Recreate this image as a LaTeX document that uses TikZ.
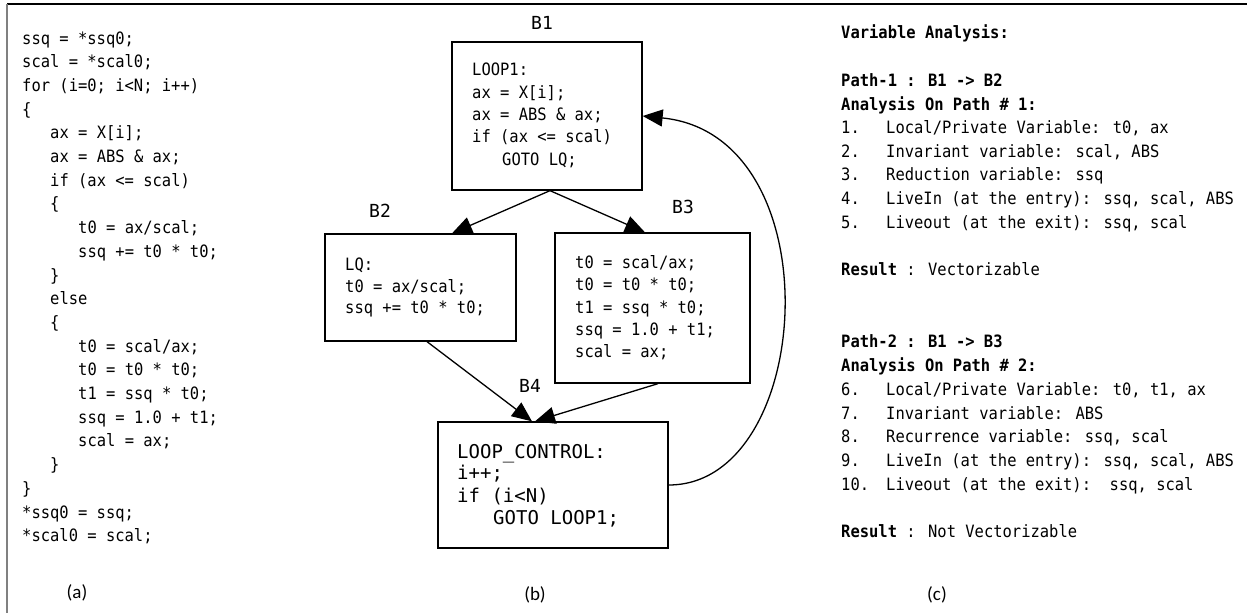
\documentclass[tikz,border=0pt]{standalone}
\usepackage{fontspec}
\setmonofont{DejaVu Sans Mono}
\newfontfamily\codefam{DejaVu Sans Mono}[FakeStretch=0.91]
\setsansfont{Carlito}
\usetikzlibrary{arrows.meta,calc}

\newcommand\codesize{\fontsize{17}{20}\selectfont}

\begin{document}
\begin{tikzpicture}[x=1pt,y=-1pt,
  ln/.style={anchor=base west, inner sep=0pt, font=\codefam\codesize},
  hd/.style={anchor=base west, inner sep=0pt, font=\codefam\bfseries\codesize},
  big/.style={anchor=base west, inner sep=0pt, font=\ttfamily\fontsize{19}{22}\selectfont},
  blocklabel/.style={inner sep=0pt, font=\ttfamily\fontsize{18}{20}\selectfont},
  caption/.style={inner sep=0pt, font=\sffamily\fontsize{19}{22}\selectfont},
  blk/.style={draw, line width=1.3pt, rectangle, inner sep=0pt},
  flow/.style={line width=1.3pt, -{Triangle[length=20pt,width=17pt]}}]

\useasboundingbox (0,0) rectangle (1247,613);

% frame
\draw[line width=1.5pt] (7,4) -- (1247,4);
\draw[line width=2pt, gray] (7,4) -- (7,613);

% (a) source loop
\node[ln] (a1)  at (22,44)    {ssq = *ssq0;};
\node[ln] (a2)  at (22,67.7)  {scal = *scal0;};
\node[ln] (a3)  at (22,91.4)  {for (i=0; i<N; i++)};
\node[ln] (a4)  at (22,115.1) {\{};
\node[ln] (a5)  at (50,138.8) {ax = X[i];};
\node[ln] (a6)  at (50,162.5) {ax = ABS \& ax;};
\node[ln] (a7)  at (50,186.2) {if (ax <= scal)};
\node[ln] (a8)  at (50,209.9) {\{};
\node[ln] (a9)  at (78,233.6) {t0 = ax/scal;};
\node[ln] (a10) at (78,257.3) {ssq += t0 * t0;};
\node[ln] (a11) at (50,281)   {\}};
\node[ln] (a12) at (50,304.7) {else};
\node[ln] (a13) at (50,328.4) {\{};
\node[ln] (a14) at (78,352.1) {t0 = scal/ax;};
\node[ln] (a15) at (78,375.8) {t0 = t0 * t0;};
\node[ln] (a16) at (78,399.5) {t1 = ssq * t0;};
\node[ln] (a17) at (78,423.2) {ssq = 1.0 + t1;};
\node[ln] (a18) at (78,446.9) {scal = ax;};
\node[ln] (a19) at (50,470.6) {\}};
\node[ln] (a20) at (22,494.3) {\}};
\node[ln] (a21) at (22,518)   {*ssq0 = ssq;};
\node[ln] (a22) at (22,541.7) {*scal0 = scal;};
\node[caption] (capa) at (77,593) {(a)};

% (b) control flow graph
\node[blk, minimum width=190pt, minimum height=148pt] (B1) at (547,116) {};
\node[blk, minimum width=191pt, minimum height=107pt] (B2) at (420.5,287.5) {};
\node[blk, minimum width=195pt, minimum height=150pt] (B3) at (652.5,308) {};
\node[blk, minimum width=230pt, minimum height=126pt] (B4) at (553,485) {};

\node[blocklabel] (l1) at (542,23)  {B1};
\node[blocklabel] (l2) at (380,211) {B2};
\node[blocklabel] (l3) at (683,207) {B3};
\node[blocklabel] (l4) at (530,386) {B4};

\node[ln] (b11) at (472,75)  {LOOP1:};
\node[ln] (b12) at (472,98)  {ax = X[i];};
\node[ln] (b13) at (472,120) {ax = ABS \& ax;};
\node[ln] (b14) at (472,142) {if (ax <= scal)};
\node[ln] (b15) at (502,165) {GOTO LQ;};

\node[ln] (b21) at (345,270) {LQ:};
\node[ln] (b22) at (345,292) {t0 = ax/scal;};
\node[ln] (b23) at (345,313) {ssq += t0 * t0;};

\node[ln] (b31) at (575,268) {t0 = scal/ax;};
\node[ln] (b32) at (575,290) {t0 = t0 * t0;};
\node[ln] (b33) at (575,313) {t1 = ssq * t0;};
\node[ln] (b34) at (575,335) {ssq = 1.0 + t1;};
\node[ln] (b35) at (575,357) {scal = ax;};

\node[big] (b41) at (457,458) {LOOP\_CONTROL:};
\node[big] (b42) at (457,479) {i++;};
\node[big] (b43) at (457,502) {if (i<N)};
\node[big] (b44) at (493,524) {GOTO LOOP1;};

\draw[flow] ([xshift=3pt]B1.south) -- ([xshift=31.5pt]B2.north);
\draw[flow] ([xshift=3pt]B1.south) -- ([xshift=-7.5pt]B3.north);
\draw[flow] ([xshift=6.5pt]B2.south) -- ([xshift=-21pt]B4.north);
\draw[flow] ([xshift=5.5pt]B3.south) -- ([xshift=-18pt]B4.north);
\draw[flow] (B4.east) .. controls (815,485) and (835,135) .. (B1.east);

\node[caption] (capb) at (535,595) {(b)};

% (c) variable analysis
\node[hd] (c0) at (841,38)  {Variable Analysis:};
\node[hd] (c1) at (841,86)  {Path-1 : B1 -> B2};
\node[hd] (c2) at (841,110) {Analysis On Path \# 1:};
\node[ln] (n1) at (841,133) {1.};
\node[ln] (t1) at (886,133) {Local/Private Variable: t0, ax};
\node[ln] (n2) at (841,157) {2.};
\node[ln] (t2) at (886,157) {Invariant variable: scal, ABS};
\node[ln] (n3) at (841,180) {3.};
\node[ln] (t3) at (886,180) {Reduction variable: ssq};
\node[ln] (n4) at (841,204) {4.};
\node[ln] (t4) at (886,204) {LiveIn (at the entry): ssq, scal, ABS};
\node[ln] (n5) at (841,228) {5.};
\node[ln] (t5) at (886,228) {Liveout (at the exit): ssq, scal};
\node[ln] (r1) at (841,275) {{\bfseries Result} : Vectorizable};

\node[hd] (c3) at (841,347) {Path-2 : B1 -> B3};
\node[hd] (c4) at (841,371) {Analysis On Path \# 2:};
\node[ln] (n6) at (841,395) {6.};
\node[ln] (t6) at (886,395) {Local/Private Variable: t0, t1, ax};
\node[ln] (n7) at (841,419) {7.};
\node[ln] (t7) at (886,419) {Invariant variable: ABS};
\node[ln] (n8) at (841,442) {8.};
\node[ln] (t8) at (886,442) {Recurrence variable: ssq, scal};
\node[ln] (n9) at (841,466) {9.};
\node[ln] (t9) at (886,466) {LiveIn (at the entry): ssq, scal, ABS};
\node[ln] (n10) at (841,490) {10.};
\node[ln] (t10) at (886,490) {Liveout (at the exit):\ \ ssq, scal};
\node[ln] (r2) at (841,537) {{\bfseries Result} : Not Vectorizable};

\node[caption] (capc) at (937,595) {(c)};
\end{tikzpicture}
\end{document}
